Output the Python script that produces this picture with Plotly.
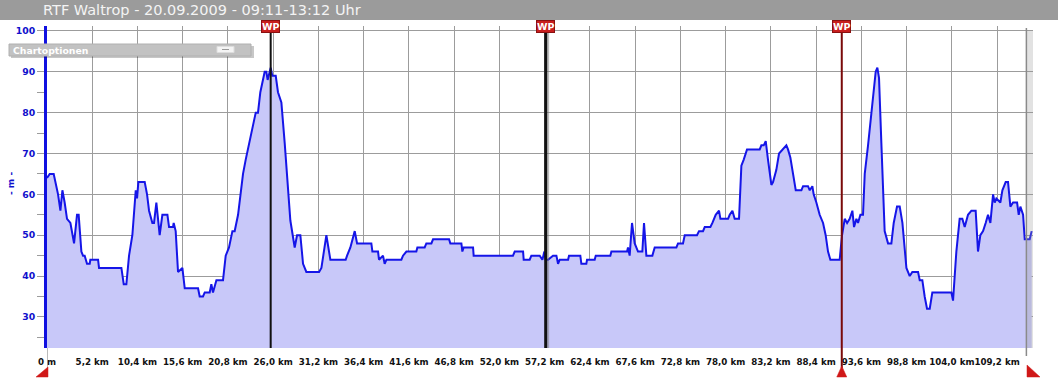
import plotly.graph_objects as go

# ---------------- data ----------------
distance_km = [
    0.0, 0.31, 0.77, 0.96, 1.27, 1.54, 1.77, 2.03, 2.30, 2.69, 2.88, 3.11, 3.45, 3.64, 3.95, 4.14,
    4.33, 4.60, 4.91, 4.98, 5.87, 5.98, 8.55, 8.66, 8.82, 9.12, 9.43, 9.81, 10.20, 10.35, 10.50,
    10.66, 11.23, 11.50, 11.73, 12.11, 12.30, 12.57, 12.76, 12.95, 13.26, 13.84, 14.03, 14.48,
    14.56, 14.79, 15.06, 15.56, 15.83, 17.36, 17.55, 17.93, 18.13, 18.70, 18.89, 19.08, 19.47,
    20.23, 20.54, 20.92, 21.31, 21.57, 21.96, 22.53, 22.84, 23.30, 23.76, 23.99, 24.25, 24.52,
    25.02, 25.21, 25.36, 25.52, 25.71, 25.90, 26.29, 26.55, 26.94, 27.32, 27.97, 28.47, 28.74,
    29.12, 29.43, 29.81, 31.27, 31.54, 32.11, 32.57, 34.33, 34.49, 34.87, 35.37, 35.64, 37.28,
    37.40, 38.05, 38.16, 38.62, 38.81, 39.01, 40.73, 40.92, 41.31, 42.45, 42.57, 43.41, 43.60,
    44.18, 44.37, 46.21, 46.36, 47.63, 47.74, 47.89, 48.97, 49.04, 53.56, 53.76, 54.72, 54.79,
    55.48, 55.67, 56.63, 56.94, 57.17, 57.32, 57.59, 58.16, 58.55, 58.74, 58.93, 59.89, 60.00,
    61.30, 61.42, 61.99, 62.07, 62.95, 63.07, 64.75, 64.87, 66.67, 66.78, 66.97, 67.24, 67.55,
    67.93, 68.43, 68.62, 68.89, 69.58, 69.85, 72.34, 72.53, 73.10, 73.30, 74.71, 74.94, 75.40,
    75.60, 76.25, 76.48, 76.86, 77.24, 77.40, 78.28, 78.47, 78.78, 79.04, 79.54, 79.81, 80.08,
    80.46, 81.92, 82.11, 82.38, 82.61, 82.87, 83.26, 83.45, 83.83, 84.14, 84.60, 84.98, 85.17,
    85.44, 85.75, 86.06, 86.71, 86.90, 87.47, 87.67, 87.97, 88.12, 88.43, 88.81, 89.20, 89.50,
    89.77, 90.04, 91.11, 91.38, 91.69, 91.96, 92.26, 92.57, 92.76, 93.03, 93.22, 93.49, 93.79,
    93.99, 94.37, 94.75, 94.94, 95.25, 95.44, 95.63, 95.90, 96.28, 96.67, 97.05, 97.32, 97.70,
    98.01, 98.32, 98.78, 99.16, 99.46, 100.12, 100.31, 100.61, 100.88, 101.15, 101.46, 101.76,
    103.95, 104.14, 104.52, 104.90, 105.21, 105.48, 105.86, 106.25, 106.74, 107.01, 107.28,
    107.59, 107.89, 108.16, 108.43, 108.74, 108.93, 109.12, 109.58, 109.81, 110.19, 110.46,
    110.73, 111.04, 111.50, 111.69, 111.88, 112.19, 112.38, 112.95, 113.18,
]
elevation_m = [
    64, 65, 65, 63, 60, 56, 61, 58, 54, 53, 51, 48, 55, 55, 46, 45,
    45, 43, 43, 44, 44, 42, 42, 40, 38, 38, 45, 50, 61, 59, 63,
    63, 63, 60, 56, 53, 53, 58, 54, 50, 55, 55, 52, 52,
    53, 51, 41, 42, 37, 37, 35, 35, 36, 36, 38, 36, 39,
    39, 45, 47, 51, 51, 55, 65, 68.5, 73, 78, 80, 80, 85,
    90, 90, 88, 89.5, 91, 89, 89, 85, 82.5, 72.6, 53.6, 47, 50,
    50, 43, 41, 41, 42, 50, 44, 44, 45, 47, 51, 48, 48,
    46, 46, 44, 45, 43, 44, 44, 45, 46, 46, 47, 47, 48,
    48, 49, 49, 48, 48, 46, 47, 47, 45, 45, 46, 46, 44,
    44, 45, 45, 44, 46, 44, 44, 45, 45, 43, 44, 44, 45,
    45, 43, 43, 44, 44, 45, 45, 46, 46, 47, 45, 53, 48,
    46, 46, 53, 45, 45, 47, 47, 48, 48, 50, 50, 51, 51,
    52, 52, 53, 55, 56, 54, 54, 55, 56, 54, 54, 67, 68.5,
    71, 71, 72, 72, 73, 68.5, 62.3, 63, 66, 70, 71, 72, 71,
    69, 65, 61, 61, 62, 62, 61, 62, 60, 58, 55, 53, 50,
    46, 44, 44, 50, 54, 53, 54, 56, 52, 54, 53, 55, 55,
    65, 72, 80, 83.4, 90, 91, 88.5, 72.6, 51, 48, 48, 53, 57,
    57, 53, 42, 40, 41, 41, 39, 39, 35, 32, 32, 36,
    36, 34, 46, 54, 54, 52, 55, 56, 56, 46, 50,
    51, 53, 55, 53, 60, 58, 59, 58, 61, 63, 63,
    57, 58, 58, 55, 57, 55, 49, 49, 51,
]

x_tick_values = [0, 5.2, 10.4, 15.6, 20.8, 26.0, 31.2, 36.4, 41.6, 46.8, 52.0, 57.2, 62.4,
                 67.6, 72.8, 78.0, 83.2, 88.4, 93.6, 98.8, 104.0, 109.2]
x_tick_labels = ["0 m", "5,2 km", "10,4 km", "15,6 km", "20,8 km", "26,0 km", "31,2 km",
                 "36,4 km", "41,6 km", "46,8 km", "52,0 km", "57,2 km", "62,4 km", "67,6 km",
                 "72,8 km", "78,0 km", "83,2 km", "88,4 km", "93,6 km", "98,8 km", "104,0 km",
                 "109,2 km"]
y_tick_values = [30, 40, 50, 60, 70, 80, 90, 100]

waypoints_km = [25.71, 57.32, 91.35]
waypoint_labels = ["WP", "WP", "WP"]
track_end_km = 112.57

title_text = "RTF Waltrop - 20.09.2009 - 09:11-13:12 Uhr"

# ---------------- layout helpers ----------------
W, H = 1058, 386
ML, MR, MT, MB = 47, 25, 26, 38
PW, PH = W - ML - MR, H - MT - MB
X_MAX = 113.33
Y_RANGE = [22.4, 101.2]


def px(x):
    return (x - ML) / PW


def py(y):
    return (H - MB - y) / PH


fig = go.Figure()
fig.add_trace(go.Scatter(
    x=distance_km, y=elevation_m, mode="lines",
    line=dict(color="#1515e8", width=2),
    fill="tozeroy", fillcolor="rgb(200,200,249)",
    hoverinfo="skip", showlegend=False,
))

shapes = []
# title bar
shapes.append(dict(type="rect", xref="paper", yref="paper", x0=px(0), x1=px(W), y0=py(20), y1=py(0),
                   fillcolor="#9b9b9b", line=dict(width=0), layer="above"))
# end band
shapes.append(dict(type="rect", xref="x", yref="paper", x0=track_end_km, x1=X_MAX, y0=0, y1=py(30),
                   fillcolor="rgba(150,150,150,0.28)", line=dict(width=0), layer="above"))
shapes.append(dict(type="line", xref="x", yref="paper", x0=track_end_km, x1=track_end_km, y0=py(356), y1=py(28),
                   line=dict(color="#8a8a8a", width=1.5), layer="above"))
# start line down to marker
shapes.append(dict(type="line", xref="x", yref="paper", x0=0, x1=0, y0=py(368), y1=0,
                   line=dict(color="#777777", width=1), layer="above"))
# waypoint lines
wp_colors = ["#111111", "#111111", "#7a0a0a"]
wp_widths = [2, 3, 2]
for i, wp in enumerate(waypoints_km):
    if i == 1:
        shapes.append(dict(type="line", xref="x", yref="paper", x0=wp + 0.28, x1=wp + 0.28, y0=0, y1=py(30),
                           line=dict(color="rgba(120,120,120,0.5)", width=2), layer="above"))
    y_bottom = py(368) if i == 2 else 0
    shapes.append(dict(type="line", xref="x", yref="paper", x0=wp, x1=wp, y0=y_bottom, y1=py(30),
                       line=dict(color=wp_colors[i], width=wp_widths[i]), layer="above"))


def tri(points, color):
    path = "M " + " L ".join(f"{px(a)},{py(b)}" for a, b in points) + " Z"
    return dict(type="path", xref="paper", yref="paper", path=path,
                fillcolor=color, line=dict(color=color, width=0.5), layer="above")


shapes.append(tri([(48, 367), (48, 377), (36, 377)], "#d01818"))
x_wp3 = ML + waypoints_km[2] / X_MAX * PW
shapes.append(tri([(x_wp3, 366), (x_wp3 + 5, 377), (x_wp3 - 5, 377)], "#d01818"))
shapes.append(tri([(1027, 365), (1040, 377), (1027, 377)], "#d01818"))

# Chartoptionen box
shapes.append(dict(type="rect", xref="paper", yref="paper", x0=px(11), x1=px(254), y0=py(58), y1=py(46),
                   fillcolor="rgba(0,0,0,0.22)", line=dict(width=0), layer="above"))
shapes.append(dict(type="rect", xref="paper", yref="paper", x0=px(9), x1=px(251), y0=py(56), y1=py(44),
                   fillcolor="#c2c2c2", line=dict(color="#b0b0b0", width=1), layer="above"))
shapes.append(dict(type="rect", xref="paper", yref="paper", x0=px(217), x1=px(234), y0=py(52.5), y1=py(46.5),
                   fillcolor="#f4f4f4", line=dict(color="#dddddd", width=1), layer="above"))
shapes.append(dict(type="line", xref="paper", yref="paper", x0=px(222), x1=px(229), y0=py(49.5), y1=py(49.5),
                   line=dict(color="#999999", width=1), layer="above"))

annotations = [
    dict(text=title_text, xref="paper", yref="paper", x=px(41), y=py(10), xanchor="left", yanchor="middle",
         showarrow=False, font=dict(family="DejaVu Sans", size=14.5, color="#f4f4f4")),
    dict(text="<b>Chartoptionen</b>", xref="paper", yref="paper", x=px(11), y=py(50), xanchor="left",
         yanchor="middle", showarrow=False, font=dict(family="DejaVu Sans", size=9.3, color="#ffffff")),
    dict(text="<b>- m -</b>", xref="paper", yref="paper", x=px(11), y=py(184), xanchor="center",
         yanchor="middle", textangle=-90, showarrow=False,
         font=dict(family="DejaVu Sans", size=9, color="#1010cc")),
]
for wp, lab in zip(waypoints_km, waypoint_labels):
    annotations.append(dict(text=f"<b>{lab}</b>", xref="x", yref="paper", x=wp, y=py(27), xanchor="center",
                            yanchor="middle", showarrow=False, bgcolor="#c81e1e", bordercolor="#8a1010",
                            borderwidth=1, borderpad=0,
                            font=dict(family="DejaVu Sans", size=9.5, color="#ffffff")))

fig.update_layout(
    width=W, height=H,
    margin=dict(l=ML, r=MR, t=MT, b=MB, pad=0, autoexpand=False),
    paper_bgcolor="white", plot_bgcolor="white",
    shapes=shapes, annotations=annotations,
    xaxis=dict(range=[0, X_MAX], tickvals=x_tick_values, ticktext=x_tick_labels,
               showgrid=True, gridcolor="#9c9c9c", gridwidth=1, zeroline=False, showline=False,
               ticks="", ticklabelstandoff=7, tickangle=0, automargin=False,
               tickfont=dict(family="DejaVu Sans", size=8.7, color="#111111", weight="bold")),
    yaxis=dict(range=Y_RANGE, tickvals=y_tick_values, showgrid=True, gridcolor="#9c9c9c", gridwidth=1,
               zeroline=False, showline=True, linecolor="#1010e0", linewidth=3, automargin=False,
               ticks="outside", ticklen=7, tickcolor="#9c9c9c", tickwidth=1,
               minor=dict(dtick=5, tick0=0, ticks="outside", ticklen=7, tickcolor="#9c9c9c", showgrid=False),
               tickfont=dict(family="DejaVu Sans", size=9.3, color="#1010cc", weight="bold")),
)

fig.write_html("out.html")
